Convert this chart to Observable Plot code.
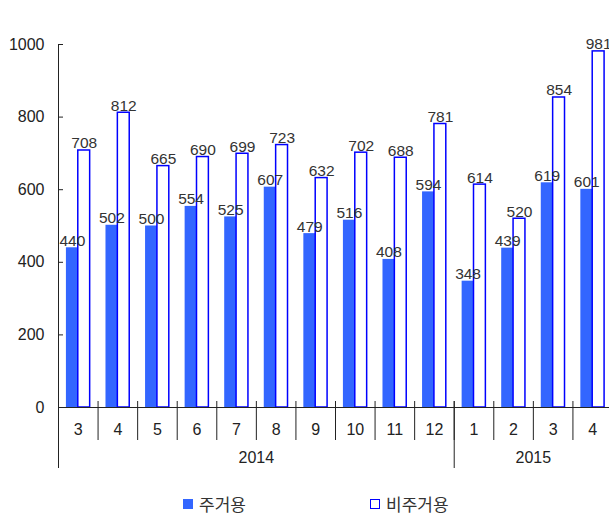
<!DOCTYPE html>
<html>
<head>
<meta charset="utf-8">
<script src="https://cdn.jsdelivr.net/npm/d3@7"></script>
<script src="https://cdn.jsdelivr.net/npm/@observablehq/plot@0.6"></script>
<style>
  body { margin: 0; background: #fff; }
  #wrap { position: relative; width: 609px; font-family: "Liberation Sans", Arial, sans-serif; color: #222; }
  #legend { position: relative; height: 32px; font-family: "Noto Sans CJK KR", sans-serif; font-size: 17px; color: #333; }
  .item { position: absolute; top: 6px; display: flex; align-items: center; gap: 6px; }
  .sw { width: 10px; height: 10px; box-sizing: border-box; }
</style>
</head>
<body>
<div id="wrap"></div>
<script>
const months = ["3","4","5","6","7","8","9","10","11","12","1","2","3","4"];
const years = ["2014","2015"];
const yearCounts = [10, 4];
const residential = [440, 502, 500, 554, 525, 607, 479, 516, 408, 594, 348, 439, 619, 601];
const nonResidential = [708, 812, 665, 690, 699, 723, 632, 702, 688, 781, 614, 520, 854, 981];
const yTicks = [0, 200, 400, 600, 800, 1000];
const seriesNames = ["주거용", "비주거용"];

const resData = residential.map((v, i) => ({i, v}));
const nonData = nonResidential.map((v, i) => ({i, v}));
const yearStarts = yearCounts.map((c, k) => d3.sum(yearCounts.slice(0, k)));
const yearCenters = yearCounts.map((c, k) => yearStarts[k] + c / 2);

const plot = Plot.plot({
  width: 609,
  height: 485,
  marginTop: 44,
  marginBottom: 78,
  marginLeft: 58,
  marginRight: -3,
  style: {fontFamily: "Liberation Sans, Arial, sans-serif", fontSize: "16px", color: "#222", overflow: "hidden"},
  x: {type: "linear", domain: [0, months.length], axis: null},
  y: {domain: [0, 1000], axis: null},
  marks: [
    Plot.rectY(resData, {x1: d => d.i + 0.2, x2: d => d.i + 0.5, y: "v", fill: "#3366ff"}),
    Plot.rectY(nonData, {x1: d => d.i + 0.5, x2: d => d.i + 0.8, y: "v", fill: "white", stroke: "#0000ff", strokeWidth: 1.5}),
    Plot.text(resData, {x: d => d.i + 0.35, y: "v", text: d => String(d.v), dy: -7, fontSize: 15.5, fill: "#333"}),
    Plot.text(nonData, {x: d => d.i + 0.65, y: "v", text: d => String(d.v), dy: -7, fontSize: 15.5, fill: "#333"}),
    Plot.ruleY([0], {stroke: "#222"}),
    Plot.ruleX([0], {stroke: "#222"}),
    Plot.axisY(yTicks, {anchor: "left", label: null, tickSize: 0, tickPadding: 14, fontSize: 16, fill: "#222", tickFormat: d => String(d)}),
    Plot.axisY(yTicks, {anchor: "left", label: null, tickSize: 5, dx: 5, tickFormat: () => "", stroke: "#222"}),
    Plot.axisX(d3.range(months.length + 1), {anchor: "bottom", label: null, tickSize: 39, dy: -6, tickFormat: () => "", stroke: "#222"}),
    Plot.axisX(yearStarts, {anchor: "bottom", label: null, tickSize: 67, dy: -6, tickFormat: () => "", stroke: "#222"}),
    Plot.axisX(d3.range(months.length).map(i => i + 0.5), {anchor: "bottom", label: null, tickSize: 0, tickPadding: 16, fontSize: 16, fill: "#222", tickFormat: d => months[Math.floor(d)]}),
    Plot.axisX(yearCenters, {anchor: "bottom", label: null, tickSize: 0, tickPadding: 44, fontSize: 16, fill: "#222", tickFormat: d => years[yearCenters.indexOf(d)]})
  ]
});
const wrap = document.getElementById("wrap");
wrap.appendChild(plot);
const legend = document.createElement("div");
legend.id = "legend";
legend.innerHTML = `
  <div class="item" style="left:183px"><div class="sw" style="background:#3366ff"></div><span>${seriesNames[0]}</span></div>
  <div class="item" style="left:370px"><div class="sw" style="background:#fff;border:1.5px solid #0000ff"></div><span>${seriesNames[1]}</span></div>`;
wrap.appendChild(legend);
</script>
</body>
</html>
